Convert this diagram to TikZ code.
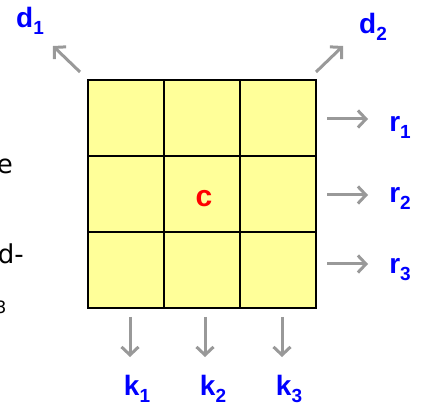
\documentclass[tikz,border=0pt]{standalone}
\usepackage{fontspec}
\setmainfont{Liberation Sans}
\newfontfamily\leftfont{DejaVu Sans}
\usetikzlibrary{arrows.meta}
\definecolor{cellyellow}{HTML}{FFFF99}
\definecolor{lblblue}{HTML}{0000FF}
\definecolor{arrgray}{HTML}{999999}
\tikzset{
  cellbox/.style={draw=black, line width=1.6pt, fill=cellyellow, minimum size=76pt, inner sep=0pt},
  lbl/.style={text=lblblue, font=\fontsize{28}{30}\selectfont\bfseries, inner sep=0pt},
  garrow/.style={draw=arrgray, line width=3pt, -{Straight Barb[length=8pt,width=17pt,line width=3pt]}},
  frag/.style={font=\leftfont\fontsize{26}{28}\selectfont, inner sep=0pt, anchor=east}
}
\newcommand{\subx}[1]{\raisebox{-0.25em}{\fontsize{19}{21}\selectfont\bfseries #1}}
\begin{document}
\begin{tikzpicture}[x=1pt,y=-1pt]
\useasboundingbox (0,0) rectangle (421,409);
\clip (0,0) rectangle (421,409);
% grid cells
\foreach \r in {0,1,2} {
  \foreach \c in {0,1,2} {
    \node[cellbox] (cell\r\c) at ({126+\c*76},{118+\r*76}) {};
  }
}
\node[text=red, font=\fontsize{30}{32}\selectfont\bfseries, inner sep=0pt] (c) at (204,199) {c};
% labels
\node[lbl] (d1) at (30,21) {d\subx{1}};
\node[lbl] (d2) at (373,27) {d\subx{2}};
\node[lbl] (r1) at (400,127) {r\subx{1}};
\node[lbl] (r2) at (400,198) {r\subx{2}};
\node[lbl] (r3) at (400,270) {r\subx{3}};
\node[lbl] (k1) at (137,389) {k\subx{1}};
\node[lbl] (k2) at (213,389) {k\subx{2}};
\node[lbl] (k3) at (289,389) {k\subx{3}};
% arrow anchor coordinates
\coordinate (d1s) at (80,72); \coordinate (d1e) at (53,46);
\coordinate (d2s) at (316,72); \coordinate (d2e) at (343,46);
\coordinate (r1s) at (327,119); \coordinate (r1e) at (368,119);
\coordinate (r2s) at (327,195); \coordinate (r2e) at (368,195);
\coordinate (r3s) at (327,264); \coordinate (r3e) at (368,264);
\coordinate (k1s) at (130,317); \coordinate (k1e) at (130,357);
\coordinate (k2s) at (205,317); \coordinate (k2e) at (205,357);
\coordinate (k3s) at (282,317); \coordinate (k3e) at (282,357);
\foreach \a in {d1,d2,r1,r2,r3,k1,k2,k3} {
  \draw[garrow] (\a s) -- (\a e);
}
% clipped text fragments on the left
\node[frag] (fe) at (13,166) {e};
\node[frag] (fd) at (24,254) {d-};
\node[font=\leftfont\fontsize{17}{19}\selectfont, inner sep=0pt] (f3) at (1,307) {3};
\end{tikzpicture}
\end{document}
